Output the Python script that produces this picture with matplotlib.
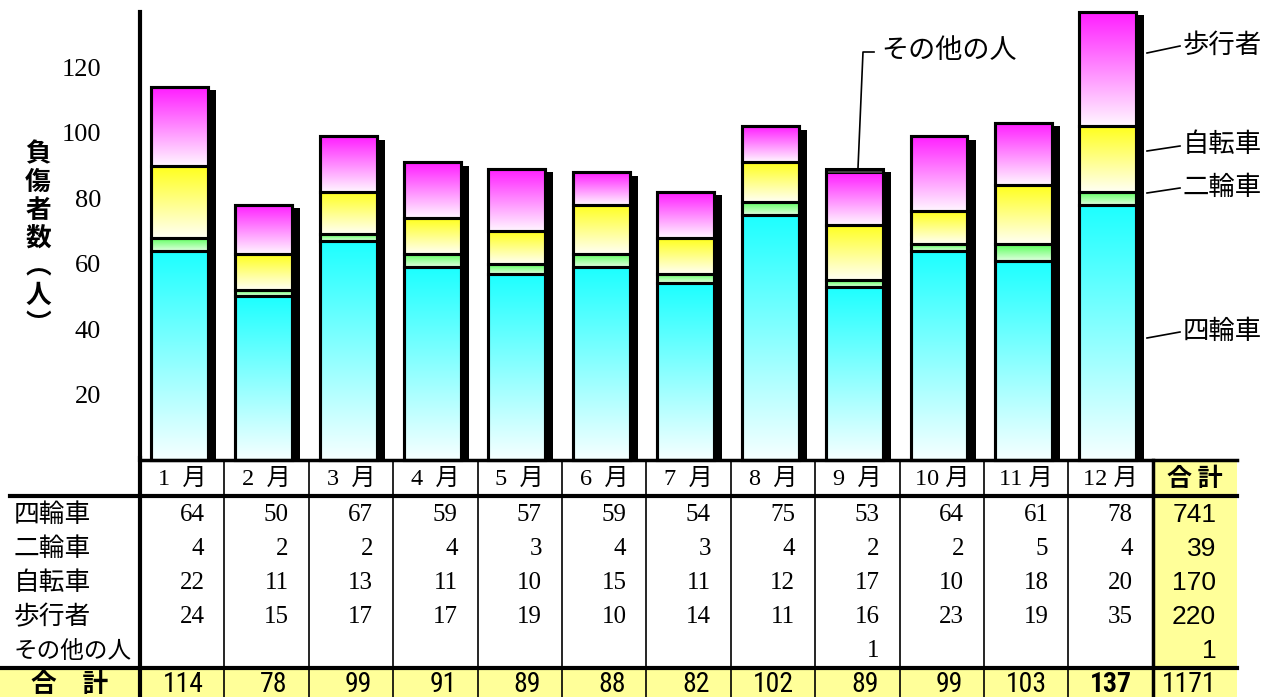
import numpy as np
import matplotlib
matplotlib.use('Agg')
import matplotlib.pyplot as plt
from matplotlib.colors import LinearSegmentedColormap
from matplotlib.patches import Rectangle
from matplotlib import font_manager as fm

# ---------------- data ----------------
months = ['1  月', '2  月', '3  月', '4  月', '5  月', '6  月',
          '7  月', '8  月', '9  月', '10 月', '11 月', '12 月']
categories = ['四輪車', '二輪車', '自転車', '歩行者', 'その他の人']
four_wheel = [64, 50, 67, 59, 57, 59, 54, 75, 53, 64, 61, 78]
two_wheel = [4, 2, 2, 4, 3, 4, 3, 4, 2, 2, 5, 4]
bicycle = [22, 11, 13, 11, 10, 15, 11, 12, 17, 10, 18, 20]
pedestrian = [24, 15, 17, 17, 19, 10, 14, 11, 16, 23, 19, 35]
other = [0, 0, 0, 0, 0, 0, 0, 0, 1, 0, 0, 0]
yticks = [20, 40, 60, 80, 100, 120]
ylabel_text = '負\n傷\n者\n数\n︵\n人\n︶'
total_label = '合　計'
total_header = '合 計'

# ---------------- style ----------------
W, H = 1265, 697
JP = 'Noto Sans CJK JP'
SERIF = 'Liberation Serif'
names = {f.name for f in fm.fontManager.ttflist}
NARROW = None
for cand in ['Liberation Sans Narrow', 'DejaVu Sans Condensed', 'Roboto Condensed',
             'Open Sans Condensed']:
    if cand in names:
        NARROW = cand
        break
NARROW_SIZE = 20
if NARROW is None:
    NARROW = 'Liberation Sans'
    NARROW_SIZE = 17
SANS = 'Liberation Sans'
YELLOW = '#FFFF99'

top_colors = ['#1CFFFF', '#55FF55', '#FFFF1C', '#FF1CFF', '#FFFFFF']
bot_colors = ['#F6FFFF', '#E2FFE2', '#FFFFF4', '#FFF6FF', '#FFFFFF']
edge_colors = ['black', 'black', 'black', 'black', '#505050']
edge_widths = [2.2, 2.2, 2.2, 2.2, 1.2]
row_label_sizes = [18.5, 18.5, 18.5, 18.5, 17]

series = [np.array(four_wheel), np.array(two_wheel), np.array(bicycle),
          np.array(pedestrian), np.array(other)]
totals = np.sum(series, axis=0)

fig = plt.figure(figsize=(W / 100, H / 100), dpi=100)
ax = fig.add_axes([140 / W, (H - 460) / H, 1013 / W, 448 / H])
ax.patch.set_alpha(0)

x = np.arange(len(months))
bw = 0.675
off = -0.035

# shadows
ax.bar(x + off + 0.095, totals - 1.0, bw, color='black', zorder=1, clip_on=False)

grad = np.linspace(0, 1, 256).reshape(-1, 1)
bottoms = np.zeros(len(months))
for s, tc, bc, ec, ew in zip(series, top_colors, bot_colors, edge_colors, edge_widths):
    cmap = LinearSegmentedColormap.from_list('g', [bc, tc])
    bars = ax.bar(x + off, s, bw, bottom=bottoms, facecolor='none',
                  edgecolor=ec, linewidth=ew, zorder=3, clip_on=False)
    for b, v in zip(bars, s):
        if v == 0:
            b.set_visible(False)
            continue
        x0, y0 = b.get_x(), b.get_y()
        ax.imshow(grad, extent=(x0, x0 + b.get_width(), y0, y0 + b.get_height()),
                  aspect='auto', cmap=cmap, origin='lower', zorder=2,
                  interpolation='bilinear', vmin=0, vmax=1)
    bottoms = bottoms + s

# outer outline of each full bar
ax.bar(x + off, totals, bw, facecolor='none', edgecolor='black', linewidth=2.2,
       zorder=4, clip_on=False)

ax.set_xlim(-0.5, len(months) - 0.5)
ax.set_ylim(0, 137)
ax.set_aspect('auto')
for sp in ['top', 'right', 'bottom']:
    ax.spines[sp].set_visible(False)
ax.spines['left'].set_linewidth(3)
ax.set_xticks([])
ax.set_yticks(yticks)
ax.set_yticklabels([str(t) for t in yticks], fontsize=19, family=SERIF)
ax.tick_params(axis='y', length=0, pad=28)

# ---------------- overlay for table & labels ----------------
t = fig.add_axes([0, 0, 1, 1])
t.set_xlim(0, W)
t.set_ylim(H, 0)
t.axis('off')
t.patch.set_alpha(0)

# y label (vertical, one text)
t.text(38, 140, ylabel_text, ha='center', va='top', fontsize=18.5, family=JP,
       fontweight='bold', linespacing=1.07, multialignment='center')

# right-side legend labels with leader lines
legend_pos = {'歩行者': (45, 53), '自転車': (145, 151), '二輪車': (187, 193), '四輪車': (331, 338)}
for name, (ty, ly) in legend_pos.items():
    t.plot([1147, 1180], [ly, ty + 1], color='black', lw=1.2)
    t.text(1183, ty, name, ha='left', va='center', fontsize=19, family=JP)

# その他の人 annotation
t.plot([858, 863, 874], [168, 52, 52], color='black', lw=1.2)
t.text(881, 51, categories[4], ha='left', va='center', fontsize=19.5, family=JP)

# table geometry
cw = 84.4
left0 = 140
col_edges = [left0 + cw * i for i in range(len(months) + 2)]
tab_right = col_edges[-1]
header_y = 479
row_y = [515, 549, 583, 617, 651]
tot_y = 683

# yellow fills
t.add_patch(Rectangle((col_edges[12], 462), tab_right - col_edges[12], 668 - 462,
                      facecolor=YELLOW, edgecolor='none', zorder=0))
t.add_patch(Rectangle((0, 668), tab_right, H - 668, facecolor=YELLOW,
                      edgecolor='none', zorder=0))

# lines
t.plot([left0, tab_right], [460, 460], color='black', lw=2.5)
t.plot([10, tab_right], [496, 496], color='black', lw=3)
t.plot([0, tab_right], [668, 668], color='black', lw=3)
t.plot([left0, left0], [458, H], color='black', lw=3)
for i in range(1, len(months) + 1):
    lw = 2.5 if i == len(months) else 1.2
    t.plot([col_edges[i], col_edges[i]], [460, H], color='black', lw=lw)

# header
for i, m in enumerate(months):
    cx = (col_edges[i] + col_edges[i + 1]) / 2
    t.text(cx, header_y, m, ha='center', va='center', fontsize=17.5,
           family=[SERIF, JP])
t.text((col_edges[12] + tab_right) / 2, header_y, total_header, ha='center',
       va='center', fontsize=18, family=JP, fontweight='bold')

# body rows
for r, (cat, s) in enumerate(zip(categories, series)):
    t.text(14, row_y[r], cat, ha='left', va='center', fontsize=row_label_sizes[r],
           family=JP)
    for i, v in enumerate(s):
        if v == 0:
            continue
        t.text(col_edges[i + 1] - 20, row_y[r], str(v), ha='right', va='center',
               fontsize=18, family=SERIF)
    t.text(tab_right - 21, row_y[r], str(int(s.sum())), ha='right', va='center',
           fontsize=19, family=SANS)

# total row
t.text(70, tot_y + 2, total_label, ha='center', va='center', fontsize=18.5,
       family=JP, fontweight='bold')
mx = totals.max()
for i, v in enumerate(totals):
    t.text(col_edges[i + 1] - 21, tot_y + 1, str(int(v)), ha='right', va='center',
           fontsize=NARROW_SIZE, family=NARROW,
           fontweight='bold' if v == mx else 'normal')
t.text(tab_right - 21, tot_y + 1, str(int(totals.sum())), ha='right', va='center',
       fontsize=NARROW_SIZE, family=NARROW)

fig.savefig('out.png', dpi=100)
